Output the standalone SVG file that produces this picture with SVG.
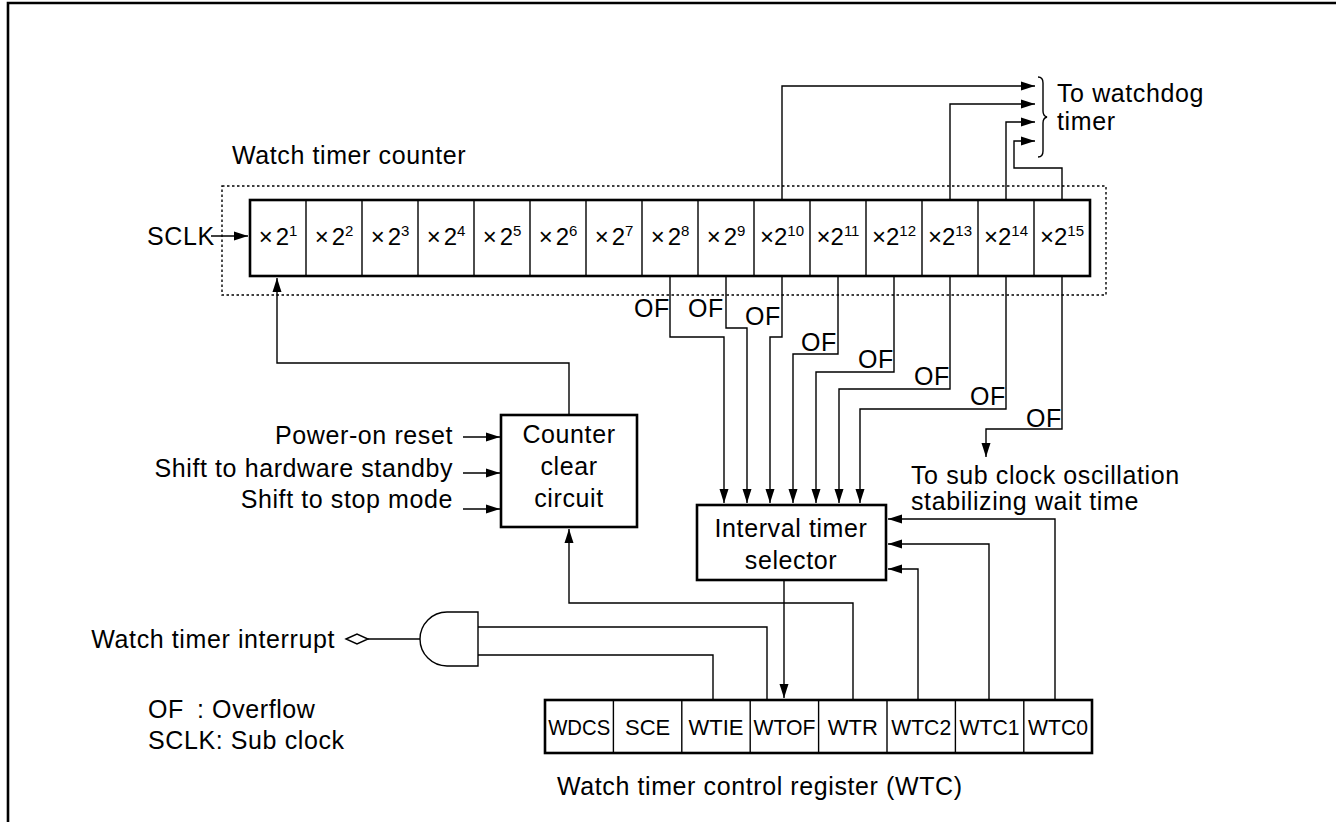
<svg xmlns="http://www.w3.org/2000/svg" width="1336" height="822" viewBox="0 0 1336 822">
<defs>
<marker id="ah" markerUnits="userSpaceOnUse" markerWidth="15" markerHeight="10" refX="14" refY="5" orient="auto">
<path d="M0,0.5 L14,5 L0,9.5 z" fill="#000"/>
</marker>
<style>
.t{font-family:"Liberation Sans",Arial,Helvetica,sans-serif;font-size:25px;letter-spacing:0.6px;fill:#000}
.c{font-family:"Liberation Sans",Arial,Helvetica,sans-serif;font-size:24px;fill:#000;text-anchor:middle}
.s{font-size:15px}
.r{font-family:"Liberation Sans",Arial,Helvetica,sans-serif;font-size:22px;fill:#000;text-anchor:middle}
.box{fill:#fff;stroke:#000;stroke-width:2.6}
.div{stroke:#000;stroke-width:1.4}
.ln{fill:none;stroke:#000;stroke-width:1.4}
.ar{fill:none;stroke:#000;stroke-width:1.4;marker-end:url(#ah)}
</style>
</defs>
<rect width="1336" height="822" fill="#fff"/>
<path d="M8,822 V3 H1336" fill="none" stroke="#000" stroke-width="2.6"/>

<g id="counter">
<text class="t" x="232" y="164">Watch timer counter</text>
<rect x="222" y="186" width="884" height="109" fill="none" stroke="#000" stroke-width="1.4" stroke-dasharray="2.5,2.5"/>
<rect class="box" x="250" y="200" width="840" height="76" stroke-width="3"/>
<g class="div">
<line x1="306" y1="200" x2="306" y2="276"/><line x1="362" y1="200" x2="362" y2="276"/>
<line x1="418" y1="200" x2="418" y2="276"/><line x1="474" y1="200" x2="474" y2="276"/>
<line x1="530" y1="200" x2="530" y2="276"/><line x1="586" y1="200" x2="586" y2="276"/>
<line x1="642" y1="200" x2="642" y2="276"/><line x1="698" y1="200" x2="698" y2="276"/>
<line x1="754" y1="200" x2="754" y2="276"/><line x1="810" y1="200" x2="810" y2="276"/>
<line x1="866" y1="200" x2="866" y2="276"/><line x1="922" y1="200" x2="922" y2="276"/>
<line x1="978" y1="200" x2="978" y2="276"/><line x1="1034" y1="200" x2="1034" y2="276"/>
</g>
<text class="c" x="278" y="245">×<tspan dx="3">2</tspan><tspan class="s" dy="-9">1</tspan></text>
<text class="c" x="334" y="245">×<tspan dx="3">2</tspan><tspan class="s" dy="-9">2</tspan></text>
<text class="c" x="390" y="245">×<tspan dx="3">2</tspan><tspan class="s" dy="-9">3</tspan></text>
<text class="c" x="446" y="245">×<tspan dx="3">2</tspan><tspan class="s" dy="-9">4</tspan></text>
<text class="c" x="502" y="245">×<tspan dx="3">2</tspan><tspan class="s" dy="-9">5</tspan></text>
<text class="c" x="558" y="245">×<tspan dx="3">2</tspan><tspan class="s" dy="-9">6</tspan></text>
<text class="c" x="614" y="245">×<tspan dx="3">2</tspan><tspan class="s" dy="-9">7</tspan></text>
<text class="c" x="670" y="245">×<tspan dx="3">2</tspan><tspan class="s" dy="-9">8</tspan></text>
<text class="c" x="726" y="245">×<tspan dx="3">2</tspan><tspan class="s" dy="-9">9</tspan></text>
<text class="c" x="782" y="245">×2<tspan class="s" dy="-9">10</tspan></text>
<text class="c" x="838" y="245">×2<tspan class="s" dy="-9">11</tspan></text>
<text class="c" x="894" y="245">×2<tspan class="s" dy="-9">12</tspan></text>
<text class="c" x="950" y="245">×2<tspan class="s" dy="-9">13</tspan></text>
<text class="c" x="1006" y="245">×2<tspan class="s" dy="-9">14</tspan></text>
<text class="c" x="1062" y="245">×2<tspan class="s" dy="-9">15</tspan></text>
</g>

<g id="sclk">
<text class="t" x="147" y="245">SCLK</text>
</g>

<g id="watchdog">
<path d="M1038,77 Q1043,77 1043,83 V111 Q1043,116 1047,117 Q1043,118 1043,123 V151 Q1043,157 1038,157" fill="none" stroke="#000" stroke-width="1.4"/>
<text class="t" x="1057" y="102">To watchdog</text>
<text class="t" x="1057" y="130">timer</text>
</g>

<g id="counter-clear">
<rect class="box" x="501" y="415" width="136" height="112"/>
<text class="t" x="569" y="443" text-anchor="middle">Counter</text>
<text class="t" x="569" y="475" text-anchor="middle">clear</text>
<text class="t" x="569" y="507" text-anchor="middle">circuit</text>
</g>

<g id="inputs">
<text class="t" x="453" y="444" text-anchor="end">Power-on reset</text>
<text class="t" x="453" y="477" text-anchor="end">Shift to hardware standby</text>
<text class="t" x="453" y="508" text-anchor="end">Shift to stop mode</text>
</g>

<g id="interval-selector">
<rect class="box" x="697" y="505" width="189" height="75"/>
<text class="t" x="791" y="537" text-anchor="middle">Interval timer</text>
<text class="t" x="791" y="569" text-anchor="middle">selector</text>
</g>

<g id="subclock">
<text class="t" x="911" y="484">To sub clock oscillation</text>
<text class="t" x="911" y="510">stabilizing wait time</text>
</g>

<g id="and-gate">
<path d="M478,612 H447 A27,27 0 0 0 447,666 H478 Z" fill="#fff" stroke="#000" stroke-width="1.4"/>
</g>

<g id="interrupt">
<text class="t" x="335" y="648" text-anchor="end">Watch timer interrupt</text>
<polygon points="346,639 357,634 368,639 357,644" fill="#fff" stroke="#000" stroke-width="1.4"/>
</g>

<g id="register">
<rect class="box" x="545" y="700" width="547" height="53"/>
<g class="div">
<line x1="613.4" y1="700" x2="613.4" y2="753"/><line x1="681.8" y1="700" x2="681.8" y2="753"/>
<line x1="750.2" y1="700" x2="750.2" y2="753"/><line x1="818.6" y1="700" x2="818.6" y2="753"/>
<line x1="887" y1="700" x2="887" y2="753"/><line x1="955.4" y1="700" x2="955.4" y2="753"/>
<line x1="1023.8" y1="700" x2="1023.8" y2="753"/>
</g>
<text class="r" x="579.2" y="735" textLength="62" lengthAdjust="spacingAndGlyphs">WDCS</text>
<text class="r" x="647.6" y="735">SCE</text>
<text class="r" x="716" y="735">WTIE</text>
<text class="r" x="784.4" y="735" textLength="62" lengthAdjust="spacingAndGlyphs">WTOF</text>
<text class="r" x="852.8" y="735">WTR</text>
<text class="r" x="921.2" y="735" textLength="60" lengthAdjust="spacingAndGlyphs">WTC2</text>
<text class="r" x="989.6" y="735" textLength="60" lengthAdjust="spacingAndGlyphs">WTC1</text>
<text class="r" x="1058" y="735" textLength="60" lengthAdjust="spacingAndGlyphs">WTC0</text>
<text class="t" x="557" y="795">Watch timer control register (WTC)</text>
</g>

<g id="legend">
<text class="t" x="148" y="718">OF</text>
<text class="t" x="197" y="718">: Overflow</text>
<text class="t" x="148" y="749">SCLK: Sub clock</text>
</g>

<g id="of-labels">
<text class="t" x="634" y="317">OF</text>
<text class="t" x="688" y="317">OF</text>
<text class="t" x="745" y="325">OF</text>
<text class="t" x="801" y="351">OF</text>
<text class="t" x="858" y="368">OF</text>
<text class="t" x="914" y="385">OF</text>
<text class="t" x="970" y="405">OF</text>
<text class="t" x="1026" y="427">OF</text>
</g>

<g id="connectors">
<path class="ar" d="M211,236 H248"/>
<path class="ar" d="M782,200 V86 H1035"/>
<path class="ar" d="M950,200 V104 H1035"/>
<path class="ar" d="M1006,200 V122 H1035"/>
<path class="ar" d="M1062,200 V168 H1014 V141 H1035"/>
<path class="ar" d="M670,277 V337 H724 V503"/>
<path class="ar" d="M726,277 V328 H747 V503"/>
<path class="ar" d="M782,277 V337 H770 V503"/>
<path class="ar" d="M838,277 V354 H793 V503"/>
<path class="ar" d="M894,277 V372 H816 V503"/>
<path class="ar" d="M950,277 V389 H839 V503"/>
<path class="ar" d="M1006,277 V409 H860 V503"/>
<path class="ar" d="M1062,277 V429 H986 V457"/>
<path class="ar" d="M569,415 V363 H277 V278"/>
<path class="ar" d="M463,437 H500"/>
<path class="ar" d="M463,473 H500"/>
<path class="ar" d="M463,509 H500"/>
<path class="ar" d="M853,700 V603 H569 V529"/>
<path class="ar" d="M784,581 V698"/>
<path class="ar" d="M1055,700 V519 H888"/>
<path class="ar" d="M989,700 V544 H888"/>
<path class="ar" d="M918,700 V569 H888"/>
<path class="ln" d="M478,627 H767 V700"/>
<path class="ln" d="M478,655 H713 V700"/>
<path class="ln" d="M420,639 H368"/>
</g>
</svg>
